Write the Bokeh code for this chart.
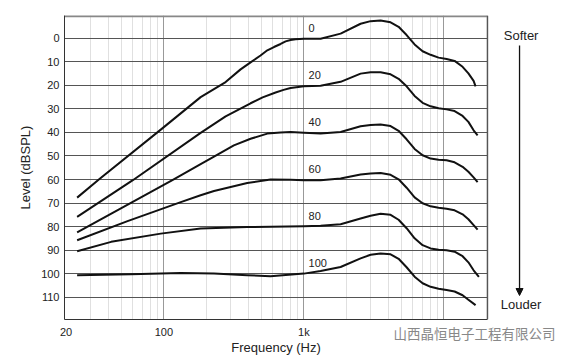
from bokeh.plotting import figure
from bokeh.models import Range1d, FixedTicker, Label, Arrow, NormalHead
from bokeh.embed import file_html
from bokeh.resources import INLINE
from bokeh.core.properties import value

# ---- data ----
curve_levels = [0, 20, 40, 60, 80, 100]

freq0 = [24, 35, 95, 183, 276, 353, 416, 490, 548, 611, 682, 740, 803, 872, 1000,
         1316, 1829, 2541, 2995, 3530, 4162, 4747, 5415, 6177, 7045, 8035, 9166, 10454, 11924, 13601, 14962, 16300, 16840]
lvl0 = [67.7, 59.6, 38.8, 25.0, 18.6, 13.2, 10.2, 7.3, 5.1, 3.7, 2.4, 1.3, 0.7, 0.4, 0.2,
        0.2, -2.0, -6.2, -7.3, -7.6, -6.8, -4.9, -1.4, 2.6, 5.5, 7.0, 8.2, 8.8, 9.6, 12.1, 14.9, 18.1, 20.4]

freq20 = [24, 60, 183, 276, 416, 507, 628, 716, 803, 1000,
          1316, 1829, 2541, 2995, 3530, 4162, 4747, 5415, 6177, 7045, 8035, 9166, 10454, 11924, 13601, 14962, 16300, 17408]
lvl20 = [75.9, 60.3, 40.2, 33.2, 27.6, 25.1, 23.0, 21.9, 21.1, 20.4,
         20.2, 18.5, 15.0, 14.4, 14.4, 15.3, 17.2, 20.4, 24.5, 27.4, 28.9, 29.7, 30.2, 30.9, 33.0, 35.5, 39.1, 41.2]

freq40 = [24, 115, 183, 228, 316, 416, 548, 682, 803, 1000,
          1316, 1829, 2541, 2995, 3530, 4162, 4747, 5415, 6177, 7045, 8035, 9166, 10454, 11924, 13601, 14962, 16300, 17408]
lvl40 = [82.5, 60.3, 53.5, 50.3, 45.5, 42.7, 40.5, 40.0, 39.8, 40.1,
         40.4, 39.8, 37.4, 36.8, 36.6, 37.3, 39.3, 42.9, 47.0, 49.7, 51.1, 51.6, 51.8, 52.7, 54.6, 56.7, 59.1, 61.1]

freq60 = [24, 55, 132, 183, 228, 394, 578, 803, 1000,
          1316, 1829, 2541, 2995, 3530, 4162, 4747, 5415, 6177, 7045, 8035, 9166, 10454, 11924, 13601, 14962, 16300, 17408]
lvl60 = [85.8, 77.7, 69.6, 66.7, 64.9, 61.5, 60.0, 60.1, 60.3,
         60.3, 59.6, 57.9, 57.4, 57.2, 58.0, 59.9, 63.5, 67.6, 70.1, 71.4, 72.0, 72.4, 73.1, 74.8, 76.9, 79.4, 81.3]

freq80 = [24, 42, 95, 183, 394, 1000,
          1316, 1829, 2541, 2995, 3530, 4162, 4747, 5415, 6177, 7045, 8035, 9166, 10454, 11924, 13601, 14962, 16300, 17780]
lvl80 = [90.5, 86.5, 83.0, 80.8, 80.2, 79.9,
         79.7, 79.0, 76.6, 75.4, 74.6, 75.0, 77.1, 80.7, 85.0, 87.9, 89.3, 89.9, 90.1, 90.7, 92.6, 95.2, 98.6, 101.4]

freq100 = [24, 58, 132, 228, 394, 578, 1000,
           1316, 1829, 2541, 2995, 3530, 4162, 4747, 5415, 6177, 7045, 8035, 9166, 10454, 11924, 13601, 14962, 16840]
lvl100 = [100.7, 100.3, 99.7, 100.0, 100.7, 101.1, 100.0,
          98.9, 97.2, 93.5, 92.0, 91.5, 91.8, 93.7, 97.3, 101.3, 104.1, 105.6, 106.4, 107.0, 107.6, 109.2, 111.1, 113.4]

y_ticks = [0, 10, 20, 30, 40, 50, 60, 70, 80, 90, 100, 110]
x_ticks = [20, 100, 1000]
x_tick_labels = ["20", "100", "1k"]
x_major_grid = [100, 1000, 10000]
x_minor_grid = [30, 40, 50, 60, 70, 80, 90,
                200, 300, 400, 500, 600, 700, 800, 900,
                2000, 3000, 4000, 5000, 6000, 7000, 8000, 9000, 20000]

FONT = "Liberation Sans"

# chart area (Hz, dB); the frame is widened to the right to hold the Softer/Louder arrow
X_LO, X_HI = 19.5, 20500
Y_TOP, Y_BOT = -9.7, 119.5
FRAME_X_END = 101000

p = figure(x_axis_type="log",
           x_range=Range1d(X_LO, FRAME_X_END), y_range=Range1d(Y_BOT, Y_TOP),
           frame_width=520, frame_height=304,
           min_border_left=64, min_border_top=15, min_border_right=2, min_border_bottom=40,
           output_backend="svg", toolbar_location=None,
           background_fill_color="white", border_fill_color="white")
p.outline_line_color = None

# vertical grid
p.xgrid.ticker = FixedTicker(ticks=x_major_grid, minor_ticks=x_minor_grid)
p.xgrid.grid_line_color = "#999"
p.xgrid.minor_grid_line_color = "#e0e0e0"

# horizontal grid, limited to the chart area
yg = p.ygrid[0]
if "cross_bounds" in yg.properties():
    yg.ticker = FixedTicker(ticks=y_ticks)
    yg.cross_bounds = (X_LO, X_HI)
    yg.grid_line_color = "#555"
else:
    yg.visible = False
    p.segment(x0=[X_LO] * len(y_ticks), x1=[X_HI] * len(y_ticks), y0=y_ticks, y1=y_ticks,
              line_color="#555", line_width=1)

# top and right border of the chart area
p.line(x=[X_LO, X_HI], y=[Y_TOP, Y_TOP], line_color="#888", line_width=3.5)
p.line(x=[X_HI, X_HI], y=[Y_TOP, Y_BOT], line_color="#555", line_width=1.3)

# axes
p.xaxis.ticker = FixedTicker(ticks=x_ticks, minor_ticks=[])
p.xaxis.bounds = (X_LO, X_HI)
p.xaxis.major_label_overrides = {t: l for t, l in zip(x_ticks, x_tick_labels)}
p.yaxis.ticker = FixedTicker(ticks=y_ticks, minor_ticks=[])
for ax in (p.xaxis[0], p.yaxis[0]):
    ax.axis_line_color = "#333"
    ax.major_tick_line_color = None
    ax.minor_tick_line_color = None
    ax.major_tick_out = 0
    ax.major_tick_in = 0
    ax.minor_tick_out = 0
    ax.major_label_text_font = FONT
    ax.major_label_text_font_size = "11px"
    ax.major_label_text_color = "#222"
    ax.axis_label_text_font = FONT
    ax.axis_label_text_font_size = "13px"
    ax.axis_label_text_font_style = "normal"
    ax.axis_label_text_color = "#222"
p.yaxis.axis_label = "Level (dBSPL)"
p.xaxis.major_label_standoff = 6
p.yaxis.major_label_standoff = 5
p.yaxis.axis_label_standoff = 5

# x-axis title, centred under the chart area (not the widened frame)
x_mid = (X_LO * X_HI) ** 0.5
p.add_layout(Label(x=x_mid, y=131.3, text="Frequency (Hz)", text_align="center", text_baseline="middle",
                   text_font=FONT, text_font_size="13px", text_color="#222"), "right")

# curves
for f, l in [(freq0, lvl0), (freq20, lvl20), (freq40, lvl40),
             (freq60, lvl60), (freq80, lvl80), (freq100, lvl100)]:
    p.line(f, l, line_color="#111", line_width=2, line_join="round")

# curve labels
p.text(x=[1080] * len(curve_levels), y=[c - 4.5 for c in curve_levels],
       text=[str(c) for c in curve_levels],
       text_font=value(FONT), text_font_size="11px", text_color="#222",
       text_align="left", text_baseline="middle")

# Softer / Louder arrow
AX = 34700
p.add_layout(Label(x=35600, y=-1.2, text="Softer", text_align="center", text_baseline="middle",
                   text_font=FONT, text_font_size="13px", text_color="#222"))
p.add_layout(Label(x=35600, y=113.0, text="Louder", text_align="center", text_baseline="middle",
                   text_font=FONT, text_font_size="13px", text_color="#222"))
p.add_layout(Arrow(end=NormalHead(size=7, fill_color="#111", line_color="#111", line_width=1),
                   x_start=AX, y_start=3.0, x_end=AX, y_end=109.3,
                   line_color="#111", line_width=1.3))

# watermark (below the frame, so placed in a side panel)
p.add_layout(Label(x=4372, y=125.2, text="山西晶恒电子工程有限公司", text_align="left", text_baseline="middle",
                   text_font="Noto Sans CJK SC", text_font_size="13.5px", text_color="#888"), "right")

open("out.html", "w").write(file_html(p, INLINE))
